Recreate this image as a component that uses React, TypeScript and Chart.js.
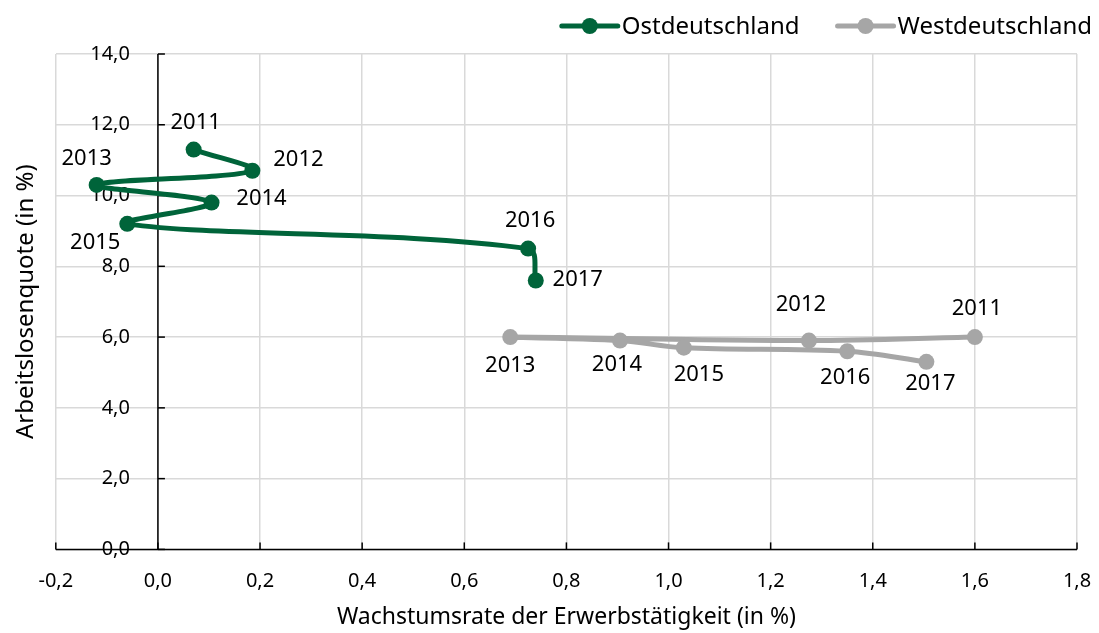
import React, { useEffect, useRef } from 'react';
import { Chart, registerables } from 'chart.js';

Chart.register(...registerables);

// ---- data ----
const years = ['2011', '2012', '2013', '2014', '2015', '2016', '2017'];
const ostGrowth = [0.07, 0.185, -0.12, 0.105, -0.06, 0.725, 0.74];
const ostUnemployment = [11.3, 10.7, 10.3, 9.8, 9.2, 8.5, 7.6];
const westGrowth = [1.6, 1.275, 0.69, 0.905, 1.03, 1.35, 1.505];
const westUnemployment = [6.0, 5.9, 6.0, 5.9, 5.7, 5.6, 5.3];
const seriesNames = ['Ostdeutschland', 'Westdeutschland'];
const xAxisTitle = 'Wachstumsrate der Erwerbstätigkeit (in %)';
const yAxisTitle = 'Arbeitslosenquote (in %)';
const xMin = -0.2;
const xMax = 1.8;
const xStep = 0.2;
const yMin = 0;
const yMax = 14;
const yStep = 2;

// ---- styles ----
const FONT = '"Noto Sans", sans-serif';
const GREEN = '#00643a';
const GRAY = '#a6a6a6';
const GRID = '#d9d9d9';
// label offsets (px) relative to each point
const ostLabelOffsets = [[2, -27], [46, -11], [-10, -26], [50, -4], [-32, 19], [2, -28], [42, -1]];
const westLabelOffsets = [[2, -28], [-8, -36], [0, 29], [-3, 24], [15, 27], [-2, 26], [4, 22]];

const fmt = (v: number) => v.toFixed(1).replace('.', ',').replace('-0,0', '0,0');

const axisPlugin = {
  id: 'crossAxes',
  beforeDatasetsDraw(chart: any) {
    const { ctx, chartArea } = chart;
    const xs = chart.scales.x;
    const ys = chart.scales.y;
    const x0 = xs.getPixelForValue(0);
    const y0 = ys.getPixelForValue(0);
    ctx.save();
    ctx.strokeStyle = '#000';
    ctx.lineWidth = 1.5;
    ctx.beginPath();
    ctx.moveTo(x0, chartArea.top);
    ctx.lineTo(x0, chartArea.bottom);
    ctx.stroke();
    ctx.beginPath();
    ctx.moveTo(chartArea.left, y0);
    ctx.lineTo(chartArea.right, y0);
    ctx.stroke();
    ctx.font = '20px ' + FONT;
    ctx.fillStyle = '#000';
    ctx.textAlign = 'right';
    ctx.textBaseline = 'middle';
    ys.ticks.forEach((t: any) => {
      const py = ys.getPixelForValue(t.value);
      ctx.beginPath();
      ctx.moveTo(x0, py);
      ctx.lineTo(x0 + 7, py);
      ctx.stroke();
      ctx.fillText(fmt(t.value), x0 - 28, py);
    });
    ctx.textAlign = 'center';
    xs.ticks.forEach((t: any) => {
      const px = xs.getPixelForValue(t.value);
      ctx.beginPath();
      ctx.moveTo(px, y0);
      ctx.lineTo(px, y0 - 7);
      ctx.stroke();
      ctx.fillText(fmt(t.value), px, chartArea.bottom + 32);
    });
    ctx.restore();
  },
};

const labelPlugin = {
  id: 'yearLabels',
  afterDatasetsDraw(chart: any) {
    const { ctx } = chart;
    ctx.save();
    ctx.font = '22px ' + FONT;
    ctx.fillStyle = '#000';
    ctx.textAlign = 'center';
    ctx.textBaseline = 'middle';
    [ostLabelOffsets, westLabelOffsets].forEach((offs, di) => {
      const meta = chart.getDatasetMeta(di);
      meta.data.forEach((el: any, i: number) => {
        ctx.fillText(years[i], el.x + offs[i][0], el.y + offs[i][1]);
      });
    });
    ctx.restore();
  },
};

const legendPlugin = {
  id: 'customLegend',
  afterDraw(chart: any) {
    const { ctx } = chart;
    ctx.save();
    ctx.font = '24px ' + FONT;
    ctx.textBaseline = 'middle';
    ctx.textAlign = 'left';
    const colors = [GREEN, GRAY];
    const markerW = 56;
    const gapText = 4;
    const gapItems = 38;
    const widths = seriesNames.map((n) => ctx.measureText(n).width);
    const total = widths.reduce((a, w) => a + markerW + gapText + w, 0) + gapItems;
    let x = chart.width - 7 - total;
    const y = 26;
    seriesNames.forEach((n, i) => {
      ctx.strokeStyle = colors[i];
      ctx.lineWidth = 5;
      ctx.lineCap = 'round';
      ctx.beginPath();
      ctx.moveTo(x, y);
      ctx.lineTo(x + markerW, y);
      ctx.stroke();
      ctx.fillStyle = colors[i];
      ctx.beginPath();
      ctx.arc(x + markerW / 2, y, 8, 0, Math.PI * 2);
      ctx.fill();
      ctx.fillStyle = '#000';
      ctx.fillText(n, x + markerW + gapText, y + 1);
      x += markerW + gapText + widths[i] + gapItems;
    });
    ctx.restore();
  },
};

export default function App() {
  const ref = useRef<HTMLCanvasElement | null>(null);
  useEffect(() => {
    document.body.style.margin = '0';
    const canvas = ref.current;
    if (!canvas) return;
    const mk = (xs: number[], ys: number[]) => xs.map((x, i) => ({ x, y: ys[i] }));
    const chart = new Chart(canvas, {
      type: 'scatter',
      data: {
        datasets: [
          {
            label: seriesNames[0],
            data: mk(ostGrowth, ostUnemployment),
            showLine: true,
            borderColor: GREEN,
            backgroundColor: GREEN,
            borderWidth: 5,
            pointRadius: 8,
            pointHoverRadius: 8,
            pointBorderWidth: 0,
            tension: 0.35,
          },
          {
            label: seriesNames[1],
            data: mk(westGrowth, westUnemployment),
            showLine: true,
            borderColor: GRAY,
            backgroundColor: GRAY,
            borderWidth: 5,
            pointRadius: 8,
            pointHoverRadius: 8,
            pointBorderWidth: 0,
            tension: 0.35,
          },
        ],
      },
      options: {
        animation: false,
        responsive: false,
        devicePixelRatio: 1,
        layout: { padding: { top: 54, left: 8, right: 22, bottom: 0 } },
        plugins: { legend: { display: false }, tooltip: { enabled: false } },
        scales: {
          x: {
            type: 'linear',
            min: xMin,
            max: xMax,
            ticks: { stepSize: xStep, display: false },
            grid: { color: GRID, lineWidth: 1.5, drawTicks: false },
            border: { display: false },
            title: {
              display: true,
              text: xAxisTitle,
              color: '#000',
              font: { family: FONT, size: 23 },
              padding: { top: 54, bottom: 2 },
            },
          },
          y: {
            type: 'linear',
            min: yMin,
            max: yMax,
            ticks: { stepSize: yStep, display: false },
            grid: { color: GRID, lineWidth: 1.5, drawTicks: false },
            border: { display: false },
            title: {
              display: true,
              text: yAxisTitle,
              color: '#000',
              font: { family: FONT, size: 24 },
              padding: { top: 4, bottom: 15 },
            },
          },
        },
      },
      plugins: [axisPlugin, labelPlugin, legendPlugin],
    });
    return () => chart.destroy();
  }, []);
  return <canvas ref={ref} width={1099} height={633} style={{ display: 'block' }} />;
}
